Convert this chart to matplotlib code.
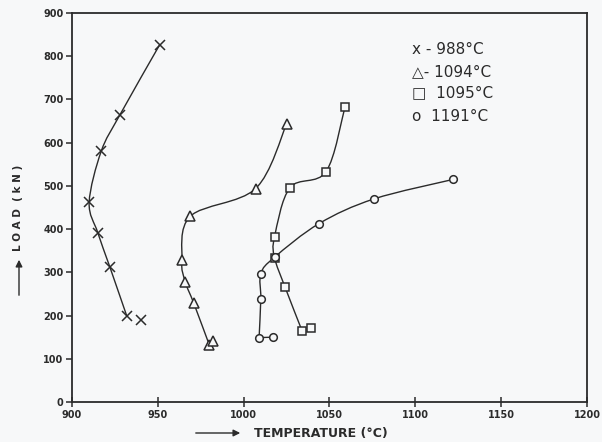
import matplotlib
matplotlib.use("Agg")
import matplotlib.pyplot as plt
import numpy as np
from matplotlib.path import Path
from matplotlib.patches import PathPatch

# ---- data ----
series_names = ["988°C", "1094°C", "1095°C", "1191°C"]

temp_988 = [951, 928, 917, 910, 915, 922, 932, 940]
load_988 = [826, 665, 580, 462, 392, 313, 198, 190]
curve_n_988 = 7          # points joined by the curve

temp_1094 = [1025, 1007, 969, 964, 966, 971, 980, 982]
load_1094 = [643, 494, 430, 328, 278, 228, 132, 140]
curve_n_1094 = 7

temp_1095 = [1059, 1048, 1027, 1018, 1018, 1024, 1034, 1039]
load_1095 = [682, 533, 496, 382, 334, 267, 165, 172]
curve_n_1095 = 7

temp_1191 = [1122, 1076, 1044, 1018, 1010, 1010, 1009, 1017]
load_1191 = [515, 470, 413, 335, 297, 239, 149, 150]
curve_n_1191 = 7         # last point joined by a straight segment

x_ticks = [900, 950, 1000, 1050, 1100, 1150, 1200]
y_ticks = [0, 100, 200, 300, 400, 500, 600, 700, 800, 900]

INK = "#2b2b2b"
BG = "#f7f8f9"


def smooth_path(xs, ys):
    pts = np.column_stack([xs, ys]).astype(float)
    n = len(pts)
    verts = [pts[0]]
    codes = [Path.MOVETO]
    for i in range(n - 1):
        p0 = pts[i - 1] if i > 0 else pts[i]
        p1 = pts[i]
        p2 = pts[i + 1]
        p3 = pts[i + 2] if i + 2 < n else pts[i + 1]
        c1 = p1 + (p2 - p0) / 6.0
        c2 = p2 - (p3 - p1) / 6.0
        verts += [c1, c2, p2]
        codes += [Path.CURVE4] * 3
    return Path(verts, codes)


fig = plt.figure(figsize=(6.02, 4.42), dpi=100, facecolor=BG)
ax = fig.add_axes([0.1196, 0.0905, 0.8554, 0.880])
ax.set_facecolor(BG)

data = [
    (temp_988, load_988, curve_n_988, "x", 7.5),
    (temp_1094, load_1094, curve_n_1094, "^", 7),
    (temp_1095, load_1095, curve_n_1095, "s", 5.5),
    (temp_1191, load_1191, curve_n_1191, "o", 5.5),
]

for xs, ys, nc, mk, ms in data:
    path = smooth_path(xs[:nc], ys[:nc])
    ax.add_patch(PathPatch(path, facecolor="none", edgecolor=INK, lw=1.0, zorder=2))
    ax.plot(xs, ys, linestyle="none", marker=mk, ms=ms, mfc=BG if mk != "x" else INK,
            mec=INK, mew=1.1, zorder=3)

# straight joining segment for the 1191 series
ax.plot(temp_1191[curve_n_1191 - 1:], load_1191[curve_n_1191 - 1:], color=INK, lw=1.0, zorder=2)

ax.set_xlim(900, 1200)
ax.set_ylim(0, 900)
ax.set_xticks(x_ticks)
ax.set_yticks(y_ticks)
ax.set_xticklabels([str(v) for v in x_ticks], fontsize=7, fontweight="bold", color=INK)
ax.set_yticklabels([str(v) for v in y_ticks], fontsize=7, fontweight="bold", color=INK)
ax.tick_params(axis="x", direction="inout", length=7, width=1.1, color=INK, pad=2)
ax.tick_params(axis="y", direction="out", length=4, width=1.1, color=INK, pad=2)
for s in ax.spines.values():
    s.set_color(INK)
    s.set_linewidth(1.3)

# legend as text
leg_lines = ["x - " + series_names[0], "\u25B3- " + series_names[1],
             "\u25A1  " + series_names[2], "o  " + series_names[3]]
leg_y = [0.905, 0.848, 0.794, 0.735]
for t, yy in zip(leg_lines, leg_y):
    ax.text(0.66, yy, t, transform=ax.transAxes, fontsize=11, color=INK,
            va="center", ha="left")

# axis labels with arrows
fig.text(321 / 602, 1 - 433 / 442, "TEMPERATURE (°C)", fontsize=9, fontweight="bold",
         color=INK, ha="center", va="center")
fig.patches.append(matplotlib.patches.FancyArrowPatch(
    (193 / 602, 1 - 433 / 442), (243 / 602, 1 - 433 / 442), transform=fig.transFigure,
    arrowstyle="-|>,head_length=4,head_width=2", color=INK, lw=1.0))

fig.text(18 / 602, 1 - 208 / 442, "L O A D  ( k N )", fontsize=7.5, fontweight="bold",
         color=INK, ha="center", va="center", rotation=90)
fig.patches.append(matplotlib.patches.FancyArrowPatch(
    (19 / 602, 1 - 298 / 442), (19 / 602, 1 - 257 / 442), transform=fig.transFigure,
    arrowstyle="-|>,head_length=4,head_width=2", color=INK, lw=1.0))

fig.savefig("out.png", dpi=100, facecolor=BG)
